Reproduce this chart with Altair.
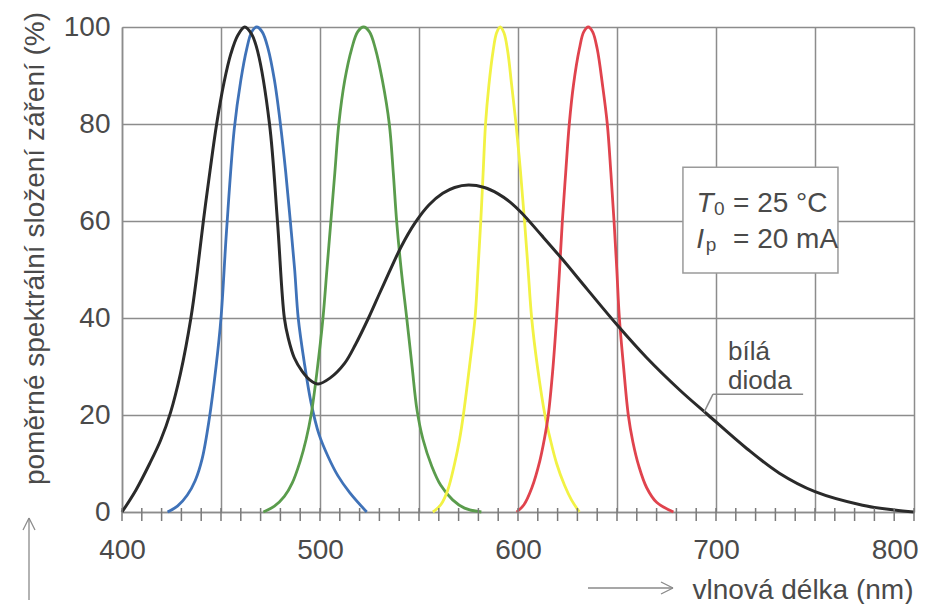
import altair as alt
import pandas as pd

FONT = "Liberation Sans"
TC = "#4a4a4a"
GRID = "#8c8c8c"

# ---- data ----
x_grid = [400, 450, 500, 550, 600, 650, 700, 750, 800]
x_minor = list(range(400, 801, 10))
y_grid = [0, 20, 40, 60, 80, 100]

blue_nm = [423, 428, 433, 437, 440.5, 444, 447.5, 450, 452.8, 456.7, 460, 463, 465.5, 468,
           470.8, 473.8, 477, 480, 482.7, 485, 487.2, 489, 492, 495.5, 499.5, 504, 509, 515, 523.6]
blue_v = [0, 1.2, 3.5, 6.5, 11, 19, 30, 40, 58, 79, 89, 95.5, 99, 100,
          99, 95.5, 89, 80, 70, 60, 50, 40, 31, 22.5, 16, 11.5, 7.5, 4, 0]

green_nm = [471.4, 477, 482, 486, 490, 493, 495.5, 498.5, 501.5, 503.5, 505.5, 507.5, 509.5, 512.5, 516, 519, 522,
            525, 528, 531.5, 535, 537, 538.7, 541, 543.8, 546.5, 549, 552, 556.4, 561, 567, 573, 581.5]
green_v = [0, 1.2, 3.2, 6, 10.5, 15, 20, 29, 40, 50, 60, 70, 80, 89, 95.5, 99, 100,
           99, 95.5, 89, 80, 70, 60, 50, 40, 30, 21, 15, 9.5, 5.5, 2.5, 0.8, 0]

yellow_nm = [557, 561, 564.5, 568, 570.5, 572.4, 575.5, 578.3, 579.8, 581.2, 582.4, 583.6, 585.3, 587.4, 589.2, 591,
             592.9, 594.8, 596.8, 599, 601.3, 603.3, 605.1, 606.9, 609.8, 613.6, 616.3, 619.5, 623.5, 627, 631]
yellow_v = [0, 1.5, 4.5, 10, 15, 20, 30, 40, 50, 60, 70, 80, 88, 95, 98.8, 100,
            98.8, 95, 88, 80, 70, 60, 50, 40, 30, 20, 15, 10, 5.5, 2.5, 0]

red_nm = [599.3, 603, 607, 611, 613.3, 615.3, 617.5, 619.5, 621, 622.4, 624.1, 625.9, 628, 631, 633.2, 635.5,
          637.7, 640, 642.7, 645.1, 646.9, 648.5, 649.9, 651.2, 653.3, 655.7, 658, 661, 665, 670, 678.5]
red_v = [0, 1.5, 5, 10.5, 15, 20, 29, 40, 50, 60, 70, 80, 88, 95.5, 99, 100,
         99, 95.5, 88, 80, 70, 60, 50, 40, 30, 20, 14.5, 9.5, 5, 2, 0]

white_nm = [400, 407, 414, 419.5, 424.5, 429.5, 434.8, 438, 441.1, 444.5, 447.8, 451.5, 455, 458.5, 462,
            465.5, 468.5, 474.5, 478.5, 482, 484, 487, 491, 495, 499,
            505, 512.5, 518, 524.5, 530, 535, 541, 548, 555, 562, 568, 575,
            583, 590, 596, 602, 612, 622, 635, 650, 665, 681.8, 696, 715.5, 732, 750, 774, 790, 800]
white_v = [0, 4.5, 10, 14.8, 20.5, 28.5, 40, 49.5, 60, 70.5, 80, 88.5, 94.5, 98.3, 100,
           98.5, 95, 80, 60, 40, 35.8, 31.8, 29, 27.2, 26.4,
           27.6, 30.7, 34.6, 40, 45, 49.5, 54.7, 59.6, 63.3, 65.7, 66.9, 67.4,
           66.9, 65.6, 63.9, 61.6, 57, 52.3, 45.9, 38.6, 31.8, 25.1, 20, 13.1, 8, 4.2, 1.4, 0.4, 0]

series_names = ["modrá", "zelená", "žlutá", "červená"]
series_colors = ["#3f72b8", "#5a9c4c", "#f2f244", "#e0434d"]

rows = []
for name, xs_, vs_ in [("modrá", blue_nm, blue_v), ("zelená", green_nm, green_v),
                       ("žlutá", yellow_nm, yellow_v), ("červená", red_nm, red_v)]:
    for i, (a, b) in enumerate(zip(xs_, vs_)):
        rows.append({"series": name, "nm": a, "v": b, "i": i})
df_col = pd.DataFrame(rows)
df_white = pd.DataFrame({"nm": white_nm, "v": white_v})

xs = alt.Scale(domain=[400, 800], nice=False, zero=False)
ys = alt.Scale(domain=[0, 100], nice=False, zero=True)

W, H = 792, 485

x_axis = alt.Axis(
    values=x_grid, labelExpr="datum.value % 100 == 0 ? datum.label : ''",
    grid=True, gridColor=GRID, gridWidth=1.5, gridOpacity=1,
    ticks=False, domainColor=GRID, domainWidth=1.5,
    labelFont=FONT, labelFontSize=28, labelColor=TC, labelPadding=24, labelOverlap=False, labelFlush=False,
    labelAlign={"condition": {"test": "datum.value == 800", "value": "right"}, "value": "center"},
    labelOffset={"condition": {"test": "datum.value == 800", "value": 4}, "value": 0},
    title="vlnová délka (nm)", titleFont=FONT, titleFontSize=28, titleFontWeight="normal", titleColor=TC,
    titleX=791, titleY=86, titleAlign="right", titleBaseline="alphabetic", titleAnchor="end",
)
y_axis = alt.Axis(
    values=y_grid, grid=True, gridColor=GRID, gridWidth=1.5, gridOpacity=1,
    ticks=False, domainColor=GRID, domainWidth=1.5,
    labelFont=FONT, labelFontSize=28, labelColor=TC, labelPadding=12,
    title="poměrné spektrální složení záření (%)", titleFont=FONT, titleFontSize=28,
    titleFontWeight="normal", titleColor=TC, titleAngle=270,
    titleX=-79, titleY=221, titleAlign="center", titleBaseline="alphabetic",
)


def X(field="nm:Q"):
    return alt.X(field, scale=xs, axis=x_axis)


def Y(field="v:Q"):
    return alt.Y(field, scale=ys, axis=y_axis)


colored = alt.Chart(df_col).mark_line(strokeWidth=2.8, interpolate="catmull-rom").encode(
    x=X(), y=Y(),
    color=alt.Color("series:N", scale=alt.Scale(domain=series_names, range=series_colors), legend=None),
    order="i:Q",
)

white = alt.Chart(df_white).mark_line(strokeWidth=3, interpolate="catmull-rom", color="#2a2a2a").encode(
    x=X(), y=Y(),
)

ticks = alt.Chart(pd.DataFrame({"nm": x_minor})).mark_rule(color="#7a7a7a", strokeWidth=1.5).encode(
    x=X(), y=alt.value(H - 4), y2=alt.value(H + 9),
)

# annotation box
box = alt.Chart(pd.DataFrame({"nm": [683.3], "nm2": [761.6], "v": [71.1], "v2": [49.3]})).mark_rect(
    fill="white", stroke="#9a9a9a", strokeWidth=1.5).encode(
    x=X(), x2="nm2:Q", y=Y(), y2="v2:Q",
)


def txt(text, nm, v, size, italic=False, dy=0, lh=None):
    kw = {}
    if lh:
        kw["lineHeight"] = lh
        kw["lineBreak"] = "\n"
    return alt.Chart(pd.DataFrame({"nm": [nm], "v": [v], "t": [text]})).mark_text(
        align="left", baseline="alphabetic", fontSize=size, font=FONT,
        fontStyle="italic" if italic else "normal", color=TC, dy=dy, **kw).encode(
        x=X(), y=Y(), text="t:N",
    )


labels = [
    txt("T", 690.2, 61.9, 28, italic=True),
    txt("0", 699.0, 61.9, 19, dy=3),
    txt("= 25 °C", 708.6, 61.9, 28),
    txt("I", 690.0, 54.4, 28, italic=True),
    txt("p", 694.8, 54.4, 19, dy=3),
    txt("= 20 mA", 708.6, 54.4, 28),
    txt("bílá\ndioda", 706.1, 31.4, 26, lh=29),
]

leader = alt.Chart(pd.DataFrame({"nm": [698.5, 698.5], "nm2": [744.0, 694.0],
                                 "v": [24.3, 24.3], "v2": [24.3, 20.6]})).mark_rule(
    color="#8a8a8a", strokeWidth=1.5).encode(
    x=X(), x2="nm2:Q", y=Y(), y2="v2:Q",
)

# title arrows (decoration, pixel positions relative to the plot area)
arrow_segments = [
    (-93, 573, -93, 491), (-93, 491, -99, 503), (-93, 491, -87, 503),
    (466, 561, 551, 561), (551, 561, 539, 555), (551, 561, 539, 567),
]
one = pd.DataFrame({"k": [0]})
arrows = [
    alt.Chart(one).mark_rule(color="#8a8a8a", strokeWidth=1.3).encode(
        x=alt.value(a), y=alt.value(b), x2=alt.value(c), y2=alt.value(d))
    for a, b, c, d in arrow_segments
]

chart = alt.layer(colored, white, ticks, box, *labels, leader, *arrows).properties(
    width=W, height=H,
    autosize=alt.AutoSizeParams(type="none"),
    padding={"left": 114, "top": 19, "right": 5, "bottom": 92},
).configure_view(stroke=GRID, strokeWidth=1.5).configure(background="white")

chart.save("out.html", embed_options={"renderer": "svg", "actions": False})
